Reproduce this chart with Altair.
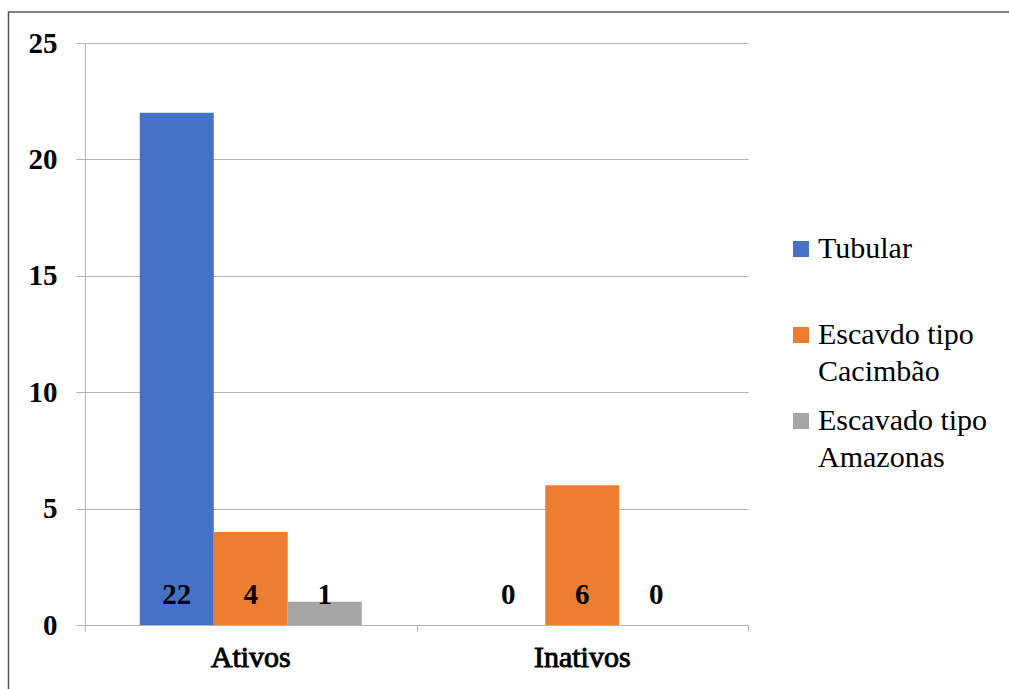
import altair as alt
import pandas as pd

categories = ["Ativos", "Inativos"]
series = ["Tubular", "Escavdo tipo|Cacimbão", "Escavado tipo|Amazonas"]
tubular = [22, 0]
cacimbao = [4, 6]
amazonas = [1, 0]
colors = ["#4472C4", "#ED7D31", "#A5A5A5"]

rows = []
for i, c in enumerate(categories):
    for s, vals in zip(series, [tubular, cacimbao, amazonas]):
        rows.append({"cat": c, "serie": s, "valor": vals[i]})
df = pd.DataFrame(rows)
cat_df = pd.DataFrame({"cat": categories})

FONT = "'Liberation Serif', 'Times New Roman', Times, serif"
GRID = "#b3b3b3"

x = alt.X("cat:N", sort=categories, title=None,
          scale=alt.Scale(paddingInner=0, paddingOuter=0),
          axis=alt.Axis(labels=False, tickBand="extent", domainColor=GRID, tickColor=GRID,
                        tickSize=6, grid=False))
xo = alt.XOffset("serie:N", sort=series, scale=alt.Scale(paddingInner=0, paddingOuter=0.74))
yscale = alt.Scale(domain=[0, 25], nice=False, zero=True)

bars = alt.Chart(df).mark_bar().encode(
    x=x,
    xOffset=xo,
    y=alt.Y("valor:Q", title=None, scale=yscale,
            axis=alt.Axis(values=[0, 5, 10, 15, 20, 25], gridColor=GRID, domainColor=GRID,
                          tickColor=GRID, tickSize=9, labelPadding=19, labelFont=FONT,
                          labelFontSize=29, labelFontWeight="bold", labelColor="black")),
    color=alt.Color("serie:N", sort=series, scale=alt.Scale(domain=series, range=colors),
                    legend=alt.Legend(title=None, orient="none", legendX=701, legendY=191,
                                      labelExpr="split(datum.label, '|')",
                                      symbolType="square", symbolSize=256, symbolStrokeWidth=0,
                                      labelFont="Liberation Serif", labelFontSize=30,
                                      labelFontWeight="normal",
                                      labelColor="black", labelLimit=400, labelOffset=2,
                                      rowPadding=19, padding=0, labelBaseline="middle",
                                      gridAlign="all")),
)

labels = alt.Chart(df).mark_text(font=FONT, fontSize=29, fontWeight="bold", color="black",
                                 baseline="middle", dy=-30).encode(
    x=x,
    xOffset=xo,
    y=alt.Y("zero:Q", scale=yscale, title=None),
    text=alt.Text("valor:Q"),
).transform_calculate(zero="0")

cat_labels = alt.Chart(cat_df).mark_text(font="Liberation Serif", fontSize=30, fontWeight="normal",
                                         color="black", stroke="black", strokeWidth=0.9,
                                         baseline="alphabetic", dy=42).encode(
    x=x,
    y=alt.Y("zero:Q", scale=yscale, title=None),
    text=alt.Text("cat:N"),
).transform_calculate(zero="0")

frame_df = pd.DataFrame({"k": [0]})
frame = alt.Chart(frame_df).mark_rect(fillOpacity=0, stroke="#555555", strokeWidth=1.5, clip=False).encode(
    x=alt.value(-76.5), x2=alt.value(940), y=alt.value(-31), y2=alt.value(700)
)

chart = alt.layer(frame, bars, labels, cat_labels).properties(
    width=663, height=582,
    autosize=alt.AutoSizeParams(type="none"),
    padding={"left": 85, "top": 43, "right": 261, "bottom": 64},
    background="white",
).configure(style={"guide-label": {"lineHeight": 37}}).configure_view(strokeWidth=0)

chart.save("out.html", embed_options={"renderer": "svg", "actions": False})
